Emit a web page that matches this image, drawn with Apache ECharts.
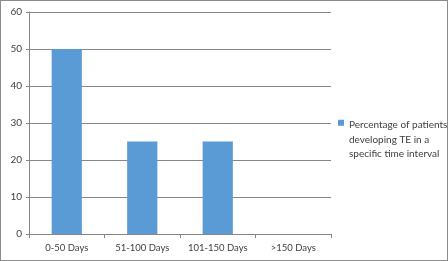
<!DOCTYPE html>
<html><head><meta charset="utf-8">
<script src="https://cdn.jsdelivr.net/npm/echarts@6/dist/echarts.min.js"></script>
<style>html,body{margin:0;padding:0;background:#fff}#c{width:448px;height:261px;box-sizing:border-box;border:1px solid #8c8c8c}</style>
</head><body><div id="c"></div>
<script>
const categories = ['0-50 Days', '51-100 Days', '101-150 Days', '>150 Days'];
const values = [50, 25, 25, 0];
const seriesName = 'Percentage of patients\ndeveloping TE in a\nspecific time interval';
const yTicks = {min: 0, max: 60, interval: 10};

const FONT = 'Lato';
const chart = echarts.init(document.getElementById('c'));
chart.setOption({
  animation: false,
  textStyle: {fontFamily: FONT},
  grid: {left: 28, right: 116, top: 11, bottom: 26},
  legend: {
    left: 337, top: 117, orient: 'vertical', padding: 0,
    itemWidth: 6, itemHeight: 40, itemGap: 0,
    icon: 'path://M0,0L6,0L6,6L0,6Z M0,40L0.01,40L0.01,40.01Z',
    textStyle: {fontSize: 10, color: '#404040', lineHeight: 14.5, fontFamily: FONT},
    data: [seriesName]
  },
  xAxis: {
    type: 'category', data: categories,
    axisLine: {lineStyle: {color: '#868686'}},
    axisTick: {show: true, length: 4, lineStyle: {color: '#868686'}},
    axisLabel: {color: '#404040', fontSize: 9.5, margin: 9, interval: 0, fontFamily: FONT}
  },
  yAxis: {
    type: 'value', min: yTicks.min, max: yTicks.max, interval: yTicks.interval,
    axisLine: {show: true, lineStyle: {color: '#868686'}},
    axisTick: {show: true, length: 3, lineStyle: {color: '#868686'}},
    splitLine: {lineStyle: {color: '#868686'}},
    axisLabel: {color: '#404040', fontSize: 10, margin: 7, fontFamily: FONT}
  },
  series: [{
    name: seriesName, type: 'bar', data: values, barWidth: '40%',
    itemStyle: {color: '#5b9bd5'}
  }]
});
</script></body></html>
